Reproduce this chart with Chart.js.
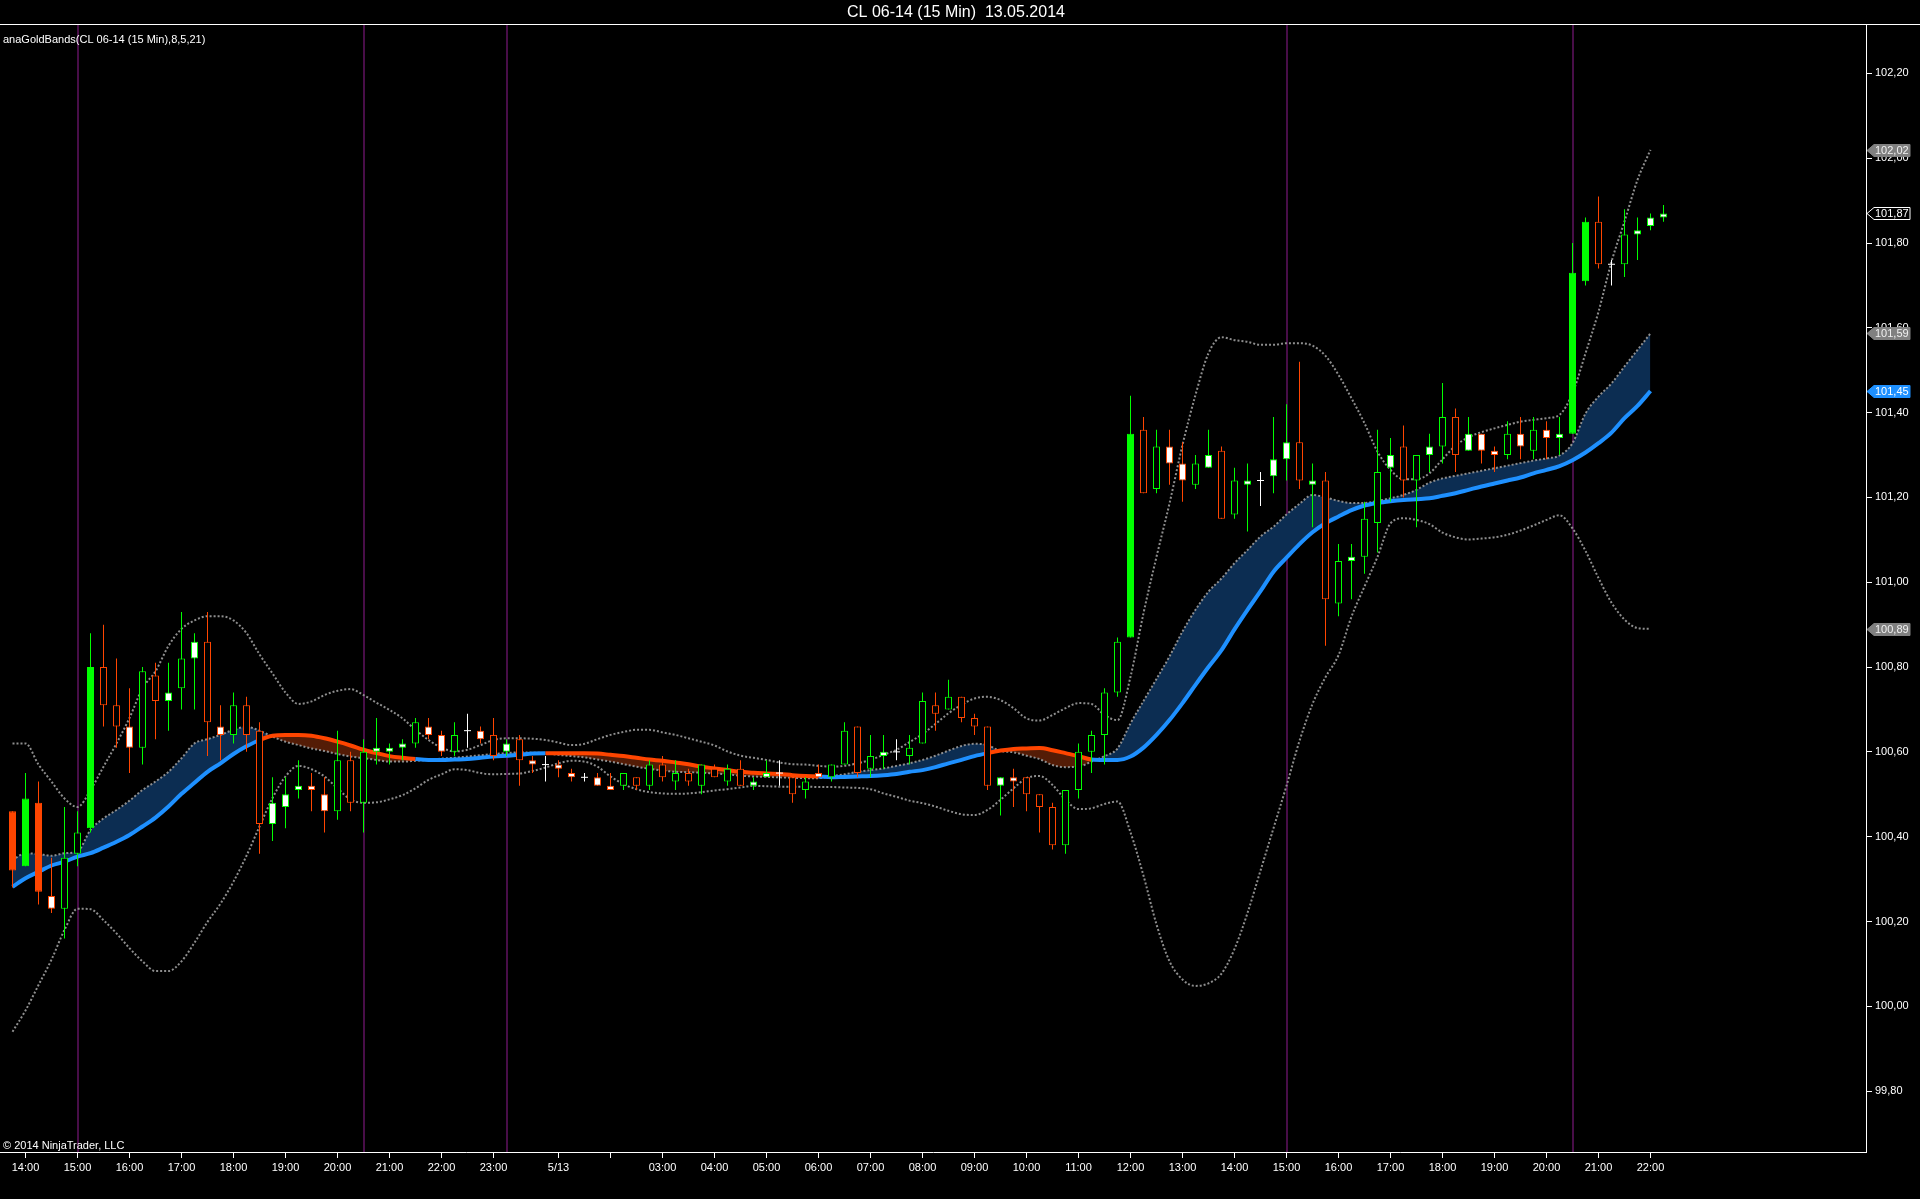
<!DOCTYPE html>
<html>
<head>
  <script src="https://cdn.jsdelivr.net/npm/chart.js"></script>
  <title>CL 06-14 (15 Min) 13.05.2014</title>
  <style>
    body { margin: 0; background: #000; }
  </style>
</head>
<body>
  <div style="width:1920px;height:1199px;">
    <canvas id="priceChart" width="1920" height="1199"></canvas>
  </div>

  <script>
    // 15 min bars, 12.05 13:45 -> 13.05 22:15 (session break after 23:15)
    const open = [
      100.46, 100.33, 100.48, 100.26, 100.23, 100.36, 100.42, 100.80, 100.71, 100.66, 100.61, 100.78, 100.72, 100.75, 100.82, 100.86,
      100.66, 100.64, 100.71, 100.65, 100.43, 100.47, 100.51, 100.52, 100.50, 100.46, 100.58, 100.48, 100.60, 100.60, 100.61, 100.62,
      100.66, 100.64, 100.60, 100.65, 100.65, 100.64, 100.60, 100.63, 100.58, 100.57, 100.57, 100.55, 100.54, 100.54, 100.52, 100.52,
      100.54, 100.52, 100.57, 100.53, 100.55, 100.52, 100.56, 100.53, 100.56, 100.52, 100.54, 100.55, 100.54, 100.51, 100.55, 100.54,
      100.57, 100.66, 100.56, 100.59, 100.60, 100.59, 100.62, 100.71, 100.70, 100.73, 100.68, 100.66, 100.52, 100.54, 100.54, 100.50,
      100.47, 100.38, 100.51, 100.60, 100.64, 100.74, 100.87, 101.36, 101.22, 101.32, 101.28, 101.23, 101.27, 101.31, 101.16, 101.23,
      101.24, 101.25, 101.29, 101.33, 101.23, 101.24, 100.95, 101.05, 101.06, 101.14, 101.27, 101.32, 101.24, 101.30, 101.32, 101.39,
      101.31, 101.35, 101.31, 101.30, 101.35, 101.31, 101.36, 101.34, 101.35, 101.71, 101.85, 101.75, 101.75, 101.82, 101.84, 101.86
    ];
    const high = [
      100.46, 100.55, 100.53, 100.35, 100.47, 100.46, 100.88, 100.90, 100.82, 100.75, 100.80, 100.81, 100.81, 100.93, 100.88, 100.93,
      100.71, 100.74, 100.73, 100.67, 100.54, 100.54, 100.58, 100.55, 100.54, 100.65, 100.60, 100.63, 100.68, 100.62, 100.63, 100.68,
      100.68, 100.65, 100.67, 100.69, 100.66, 100.68, 100.63, 100.64, 100.59, 100.59, 100.58, 100.56, 100.55, 100.55, 100.55, 100.55,
      100.54, 100.58, 100.59, 100.58, 100.56, 100.57, 100.57, 100.57, 100.58, 100.54, 100.58, 100.58, 100.54, 100.54, 100.57, 100.57,
      100.67, 100.66, 100.64, 100.64, 100.63, 100.64, 100.74, 100.74, 100.77, 100.73, 100.69, 100.66, 100.54, 100.56, 100.54, 100.50,
      100.48, 100.51, 100.62, 100.65, 100.75, 100.87, 101.44, 101.39, 101.36, 101.36, 101.33, 101.30, 101.36, 101.32, 101.27, 101.28,
      101.26, 101.39, 101.42, 101.52, 101.28, 101.26, 101.09, 101.09, 101.19, 101.36, 101.34, 101.37, 101.30, 101.35, 101.47, 101.41,
      101.39, 101.35, 101.32, 101.38, 101.39, 101.39, 101.38, 101.39, 101.80, 101.86, 101.91, 101.76, 101.88, 101.86, 101.87, 101.89
    ];
    const low = [
      100.28, 100.33, 100.24, 100.22, 100.16, 100.33, 100.41, 100.66, 100.61, 100.55, 100.57, 100.63, 100.65, 100.70, 100.70, 100.59,
      100.58, 100.62, 100.60, 100.36, 100.39, 100.42, 100.49, 100.46, 100.41, 100.44, 100.46, 100.41, 100.57, 100.57, 100.58, 100.61,
      100.63, 100.59, 100.59, 100.61, 100.62, 100.58, 100.59, 100.52, 100.55, 100.53, 100.54, 100.53, 100.53, 100.52, 100.51, 100.51,
      100.51, 100.51, 100.53, 100.51, 100.52, 100.50, 100.54, 100.52, 100.52, 100.51, 100.54, 100.52, 100.48, 100.49, 100.54, 100.53,
      100.57, 100.54, 100.54, 100.56, 100.58, 100.57, 100.62, 100.65, 100.70, 100.67, 100.64, 100.51, 100.45, 100.47, 100.46, 100.41,
      100.37, 100.36, 100.49, 100.55, 100.57, 100.73, 100.87, 101.21, 101.21, 101.23, 101.19, 101.22, 101.27, 101.15, 101.15, 101.12,
      101.18, 101.21, 101.24, 101.22, 101.13, 100.85, 100.92, 100.96, 101.02, 101.07, 101.19, 101.20, 101.13, 101.26, 101.28, 101.26,
      101.31, 101.28, 101.26, 101.29, 101.29, 101.29, 101.29, 101.30, 101.35, 101.70, 101.74, 101.70, 101.72, 101.76, 101.83, 101.85
    ];
    const close = [
      100.32, 100.49, 100.27, 100.23, 100.35, 100.41, 100.80, 100.71, 100.66, 100.61, 100.79, 100.72, 100.74, 100.82, 100.86, 100.67,
      100.64, 100.71, 100.64, 100.43, 100.48, 100.50, 100.52, 100.51, 100.46, 100.58, 100.48, 100.60, 100.61, 100.61, 100.62, 100.67,
      100.64, 100.60, 100.64, 100.65, 100.63, 100.59, 100.62, 100.58, 100.57, 100.57, 100.56, 100.54, 100.54, 100.52, 100.51, 100.55,
      100.52, 100.57, 100.54, 100.55, 100.53, 100.57, 100.54, 100.56, 100.52, 100.53, 100.55, 100.55, 100.50, 100.53, 100.54, 100.57,
      100.65, 100.55, 100.59, 100.60, 100.60, 100.61, 100.72, 100.69, 100.73, 100.68, 100.66, 100.52, 100.54, 100.53, 100.50, 100.47,
      100.38, 100.51, 100.60, 100.64, 100.74, 100.86, 101.35, 101.21, 101.32, 101.28, 101.24, 101.28, 101.30, 101.15, 101.24, 101.24,
      101.24, 101.29, 101.33, 101.24, 101.24, 100.96, 101.05, 101.06, 101.15, 101.26, 101.30, 101.24, 101.30, 101.32, 101.39, 101.30,
      101.35, 101.31, 101.30, 101.35, 101.32, 101.36, 101.34, 101.35, 101.73, 101.85, 101.75, 101.75, 101.82, 101.83, 101.86, 101.87
    ];
    // bar paint state: 0 hollow, 1 white body, 2 solid body
    const barState = [
      2, 2, 2, 1, 0, 0, 2, 0, 0, 1, 0, 0, 1, 0, 1, 0,
      1, 0, 0, 0, 1, 1, 1, 1, 1, 0, 0, 0, 1, 1, 1, 0,
      1, 1, 0, 0, 1, 0, 1, 0, 1, 0, 1, 1, 0, 1, 1, 0,
      0, 0, 0, 0, 0, 0, 0, 0, 0, 1, 1, 0, 0, 0, 1, 0,
      0, 0, 0, 1, 0, 0, 0, 0, 0, 0, 0, 0, 1, 1, 0, 0,
      0, 0, 0, 0, 0, 0, 2, 0, 0, 1, 1, 0, 1, 0, 0, 1,
      0, 1, 1, 0, 1, 0, 0, 1, 0, 0, 1, 0, 0, 1, 0, 0,
      1, 1, 1, 0, 1, 0, 1, 1, 2, 2, 0, 0, 0, 1, 1, 1
    ];

    // anaGoldBands(8,5,21)
    const upper = [
      100.62, 100.62, 100.57, 100.53, 100.49, 100.47, 100.51, 100.565, 100.62, 100.68, 100.75, 100.79, 100.85, 100.89, 100.91, 100.92,
      100.92, 100.91, 100.88, 100.83, 100.785, 100.74, 100.713, 100.719, 100.734, 100.744, 100.748, 100.734, 100.716, 100.699, 100.679, 100.652,
      100.628, 100.61, 100.601, 100.605, 100.616, 100.628, 100.632, 100.632, 100.631, 100.628, 100.622, 100.616, 100.619, 100.63, 100.64, 100.647,
      100.652, 100.652, 100.646, 100.64, 100.632, 100.624, 100.615, 100.601, 100.591, 100.586, 100.581, 100.575, 100.571, 100.57, 100.567, 100.565,
      100.567, 100.573, 100.581, 100.593, 100.605, 100.623, 100.642, 100.666, 100.691, 100.711, 100.726, 100.73, 100.722, 100.703, 100.679, 100.674,
      100.687, 100.703, 100.715, 100.713, 100.687, 100.675, 100.777, 100.927, 101.06, 101.186, 101.324, 101.442, 101.54, 101.578, 101.571, 101.567,
      101.56, 101.56, 101.564, 101.564, 101.558, 101.534, 101.489, 101.434, 101.375, 101.308, 101.265, 101.243, 101.243, 101.257, 101.29, 101.322,
      101.342, 101.354, 101.363, 101.371, 101.379, 101.383, 101.387, 101.395, 101.446, 101.54, 101.638, 101.756, 101.851, 101.949, 102.02, null
    ];
    const lower = [
      99.94, 99.99, 100.05, 100.11, 100.18, 100.23, 100.229, 100.203, 100.172, 100.137, 100.106, 100.083, 100.083, 100.106, 100.15, 100.199,
      100.242, 100.294, 100.355, 100.424, 100.491, 100.542, 100.567, 100.559, 100.542, 100.514, 100.488, 100.48, 100.481, 100.488, 100.498, 100.514,
      100.534, 100.547, 100.559, 100.557, 100.55, 100.547, 100.548, 100.549, 100.555, 100.563, 100.573, 100.579, 100.577, 100.565, 100.542, 100.524,
      100.512, 100.505, 100.502, 100.501, 100.502, 100.505, 100.509, 100.512, 100.516, 100.52, 100.519, 100.518, 100.518, 100.518, 100.517, 100.517,
      100.516, 100.515, 100.512, 100.502, 100.494, 100.485, 100.479, 100.471, 100.461, 100.453, 100.451, 100.463, 100.487, 100.514, 100.538, 100.543,
      100.522, 100.487, 100.465, 100.467, 100.477, 100.483, 100.41, 100.308, 100.193, 100.106, 100.063, 100.048, 100.054, 100.077, 100.135, 100.22,
      100.32, 100.42, 100.52, 100.626, 100.713, 100.776, 100.828, 100.919, 100.99, 101.06, 101.139, 101.151, 101.147, 101.137, 101.117, 101.106,
      101.101, 101.103, 101.106, 101.112, 101.122, 101.134, 101.147, 101.158, 101.127, 101.074, 101.01, 100.952, 100.912, 100.892, 100.89, null
    ];
    const mid = [
      100.282, 100.302, 100.317, 100.332, 100.341, 100.353, 100.361, 100.374, 100.388, 100.404, 100.424, 100.445, 100.471, 100.501, 100.527, 100.553,
      100.573, 100.595, 100.613, 100.628, 100.638, 100.64, 100.64, 100.638, 100.632, 100.624, 100.615, 100.605, 100.597, 100.59, 100.586, 100.583,
      100.581, 100.581, 100.582, 100.583, 100.586, 100.589, 100.591, 100.593, 100.596, 100.597, 100.597, 100.597, 100.597, 100.596, 100.593, 100.59,
      100.586, 100.582, 100.579, 100.575, 100.571, 100.565, 100.561, 100.557, 100.553, 100.551, 100.549, 100.548, 100.545, 100.543, 100.542, 100.54,
      100.541, 100.542, 100.543, 100.545, 100.548, 100.553, 100.557, 100.564, 100.573, 100.581, 100.59, 100.597, 100.603, 100.607, 100.608, 100.609,
      100.604, 100.597, 100.59, 100.582, 100.581, 100.581, 100.589, 100.61, 100.64, 100.675, 100.715, 100.758, 100.8, 100.84, 100.889, 100.935,
      100.979, 101.025, 101.058, 101.09, 101.118, 101.139, 101.155, 101.17, 101.181, 101.187, 101.191, 101.194, 101.196, 101.198, 101.204, 101.21,
      101.218, 101.226, 101.233, 101.24, 101.247, 101.257, 101.265, 101.274, 101.288, 101.306, 101.328, 101.353, 101.387, 101.416, 101.451, null
    ];
    const fast = [
      100.345, 100.361, 100.359, 100.355, 100.361, 100.365, 100.416, 100.443, 100.463, 100.485, 100.51, 100.53, 100.553, 100.585, 100.62, 100.63,
      100.64, 100.652, 100.659, 100.65, 100.636, 100.624, 100.616, 100.608, 100.602, 100.595, 100.589, 100.585, 100.581, 100.577, 100.577, 100.579,
      100.581, 100.584, 100.586, 100.589, 100.592, 100.595, 100.597, 100.599, 100.598, 100.597, 100.593, 100.59, 100.587, 100.582, 100.577, 100.571,
      100.565, 100.56, 100.556, 100.553, 100.552, 100.551, 100.549, 100.547, 100.544, 100.542, 100.541, 100.54, 100.539, 100.538, 100.538, 100.543,
      100.547, 100.553, 100.557, 100.561, 100.567, 100.573, 100.581, 100.591, 100.603, 100.614, 100.619, 100.616, 100.602, 100.599, 100.591, 100.583,
      100.569, 100.564, 100.565, 100.577, 100.59, 100.608, 100.667, 100.72, 100.772, 100.825, 100.884, 100.935, 100.978, 101.009, 101.045, 101.076,
      101.108, 101.131, 101.16, 101.185, 101.206, 101.2, 101.192, 101.187, 101.187, 101.192, 101.198, 101.206, 101.218, 101.235, 101.245, 101.251,
      101.257, 101.263, 101.269, 101.275, 101.281, 101.287, 101.292, 101.299, 101.328, 101.398, 101.438, 101.469, 101.509, 101.548, 101.587, null
    ];

    const tickIdx = [1, 5, 9, 13, 17, 21, 25, 29, 33, 37, 42, 46, 50, 54, 58, 62, 66, 70, 74, 78, 82, 86, 90, 94, 98, 102, 106, 110, 114, 118, 122, 126];
    const tickLabels = ['14:00', '15:00', '16:00', '17:00', '18:00', '19:00', '20:00', '21:00', '22:00', '23:00', '5/13', '',
      '03:00', '04:00', '05:00', '06:00', '07:00', '08:00', '09:00', '10:00', '11:00', '12:00', '13:00', '14:00',
      '15:00', '16:00', '17:00', '18:00', '19:00', '20:00', '21:00', '22:00'];
    const yTicks = [99.8, 100.0, 100.2, 100.4, 100.6, 100.8, 101.0, 101.2, 101.4, 101.6, 101.8, 102.0, 102.2];
    // 15:00 pit open, 20:30 pit close, 23:15 session end
    const sessionBars = [5, 27, 38, 98, 120];

    const GREEN = '#00ff00', ORANGE = '#ff4500', BLUE = '#1e90ff';
    const DOTS = 'rgba(150,150,150,0.95)';
    const FONT = "'Liberation Sans', Arial, sans-serif";

    const barColor = i => close[i] > open[i] ? GREEN : close[i] < open[i] ? ORANGE : '#ffffff';
    const pts = arr => arr.map((v, i) => ({ x: i, y: v }));
    const fmt = v => v.toFixed(2).replace('.', ',');
    const last = arr => arr.filter(v => v !== null).pop();

    const wicks = open.map((o, i) => ({ x: i, y: [low[i], high[i]] }));
    const bodies = open.map((o, i) => ({ x: i, y: [o, close[i]] })).filter(d => d.y[0] !== d.y[1]);
    const dojis = open.map((o, i) => ({ x: i, y: o })).filter(d => d.y === close[d.x]);

    const markers = [
      { v: last(upper), bg: '#808080', fg: '#f0f0f0', line: '#808080' },
      { v: close[close.length - 1], bg: '#000000', fg: '#ffffff', line: '#ffffff' },
      { v: last(fast), bg: '#808080', fg: '#f0f0f0', line: '#808080' },
      { v: last(mid), bg: BLUE, fg: '#ffffff', line: BLUE },
      { v: last(lower), bg: '#808080', fg: '#f0f0f0', line: '#808080' }
    ];

    const sessionLines = {
      id: 'sessionLines',
      beforeDatasetsDraw(chart) {
        const c = chart.ctx, a = chart.chartArea, x = chart.scales.x;
        c.save();
        c.strokeStyle = 'rgb(72,14,72)';
        c.lineWidth = 2;
        sessionBars.forEach(b => {
          const px = Math.round(x.getPixelForValue(b));
          c.beginPath();
          c.moveTo(px, a.top);
          c.lineTo(px, a.bottom);
          c.stroke();
        });
        c.restore();
      }
    };

    const annotations = {
      id: 'annotations',
      afterDraw(chart) {
        const c = chart.ctx, a = chart.chartArea, y = chart.scales.y;
        c.save();
        c.strokeStyle = '#ffffff';
        c.lineWidth = 1;
        c.beginPath();
        c.moveTo(0, a.top - 0.5);
        c.lineTo(chart.width, a.top - 0.5);
        c.stroke();

        c.fillStyle = '#ffffff';
        c.textBaseline = 'middle';
        c.textAlign = 'center';
        c.font = '16px ' + FONT;
        c.fillText('CL 06-14 (15 Min)  13.05.2014', 956, 13);
        c.textAlign = 'left';
        c.font = '11px ' + FONT;
        c.fillText('anaGoldBands(CL 06-14 (15 Min),8,5,21)', 3, 40);
        c.fillText('\u00a9 2014 NinjaTrader, LLC', 3, a.bottom - 6);

        // price markers on the right axis
        markers.forEach(m => {
          const py = Math.round(y.getPixelForValue(m.v)) + 0.5;
          const x0 = a.right + 1;
          c.beginPath();
          c.moveTo(x0, py);
          c.lineTo(x0 + 7, py - 6);
          c.lineTo(x0 + 43, py - 6);
          c.lineTo(x0 + 43, py + 6);
          c.lineTo(x0 + 7, py + 6);
          c.closePath();
          c.fillStyle = m.bg;
          c.fill();
          c.strokeStyle = m.line;
          c.stroke();
          c.fillStyle = m.fg;
          c.font = '11px ' + FONT;
          c.fillText(fmt(m.v), x0 + 8, py + 0.5);
        });
        c.restore();
      }
    };

    const ctx = document.getElementById('priceChart').getContext('2d');
    const chart = new Chart(ctx, {
      type: 'bar',
      data: {
        datasets: [
          { type: 'line', data: pts(upper), borderColor: DOTS, borderWidth: 2, borderDash: [2, 2], pointRadius: 0,
            cubicInterpolationMode: 'monotone', fill: false, order: 6 },
          { type: 'line', data: pts(lower), borderColor: DOTS, borderWidth: 2, borderDash: [2, 2], pointRadius: 0,
            cubicInterpolationMode: 'monotone', fill: false, order: 6 },
          { type: 'line', data: pts(mid), borderColor: BLUE, borderWidth: 4, pointRadius: 0,
            cubicInterpolationMode: 'monotone', fill: false, order: 4,
            segment: { borderColor: s => fast[s.p1DataIndex] >= mid[s.p1DataIndex] ? BLUE : ORANGE } },
          { type: 'line', data: pts(fast), borderColor: DOTS, borderWidth: 2, borderDash: [2, 2], pointRadius: 0,
            cubicInterpolationMode: 'monotone', order: 5,
            fill: { target: 2, above: 'rgb(12,45,82)', below: 'rgb(84,28,6)' } },
          { data: wicks, grouped: false, barThickness: 1, inflateAmount: 0, order: 2,
            backgroundColor: c => barColor(c.raw.x) },
          { data: bodies, grouped: false, barThickness: 7, inflateAmount: 0, order: 1,
            borderWidth: 1, borderSkipped: false,
            borderColor: c => barColor(c.raw.x),
            backgroundColor: c => barState[c.raw.x] === 2 ? barColor(c.raw.x) : barState[c.raw.x] === 1 ? '#ffffff' : '#000000' },
          { type: 'line', data: dojis, showLine: false, pointStyle: 'line', pointRadius: 3.5,
            borderColor: '#ffffff', borderWidth: 1, order: 0 }
        ]
      },
      options: {
        responsive: false,
        animation: false,
        devicePixelRatio: 1,
        layout: { autoPadding: false, padding: { top: 25, left: 0, right: 0, bottom: 0 } },
        plugins: { legend: { display: false }, tooltip: { enabled: false } },
        scales: {
          x: {
            type: 'linear',
            offset: false,
            min: -12.5 / 13,
            max: (1866 - 12.5) / 13,
            grid: { offset: false, drawOnChartArea: false, color: '#ffffff', tickLength: 6 },
            border: { color: '#ffffff' },
            afterBuildTicks: s => { s.ticks = tickIdx.map(v => ({ value: v })); },
            afterFit: s => { s.height = 47; s.paddingLeft = 0; s.paddingRight = 0; },
            ticks: {
              color: '#ffffff', font: { family: FONT, size: 11 }, padding: 3,
              maxRotation: 0, autoSkip: false,
              callback: (v, i) => tickLabels[i]
            }
          },
          y: {
            position: 'right',
            beginAtZero: false,
            min: 99.6563,
            max: 102.3143,
            grid: { drawOnChartArea: false, color: '#ffffff', tickLength: 6 },
            border: { color: '#ffffff' },
            afterBuildTicks: s => { s.ticks = yTicks.map(v => ({ value: v })); },
            afterFit: s => { s.width = 54; s.paddingTop = 0; s.paddingBottom = 0; },
            ticks: { color: '#ffffff', font: { family: FONT, size: 11 }, padding: 3, callback: v => fmt(v) }
          }
        }
      },
      plugins: [sessionLines, annotations]
    });
  </script>
</body>
</html>
